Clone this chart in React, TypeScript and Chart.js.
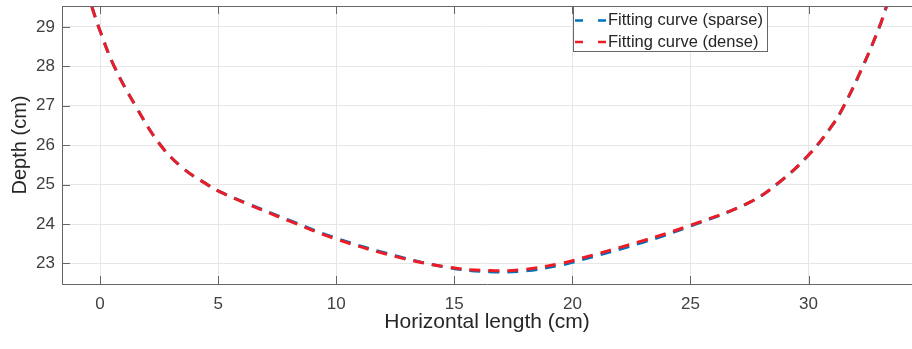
import React, { useEffect, useRef } from "react";
import { Chart, registerables } from "chart.js";

Chart.register(...registerables);

const xTickStep = 5;
const yTickStep = 1;
const xRange = [-1.61, 34.38];
const yRange = [22.48, 29.53];

const denseX = [-0.6, -0.35, 0, 0.6, 1.5, 2.5, 3.5, 4.6, 5, 6.2, 8, 10, 12.5, 14.7, 16.5, 18, 19.5, 20, 23, 25, 27.5, 28.8, 30, 31.0, 31.5, 32.3, 33.0, 33.3, 33.55];
const denseY = [29.97, 29.52, 28.9, 28.0, 27.0, 26.05, 25.42, 24.98, 24.84, 24.52, 24.08, 23.62, 23.18, 22.91, 22.82, 22.85, 23.0, 23.07, 23.58, 23.97, 24.55, 25.08, 25.75, 26.5, 27.0, 28.0, 29.0, 29.52, 29.97];

const sparseX = [-0.6, -0.35, 0, 0.6, 1.5, 2.5, 3.5, 4.6, 5, 6.2, 8, 10, 12.5, 14.7, 16.5, 18, 19.5, 20, 23, 25, 27.5, 28.8, 30, 31.0, 31.5, 32.3, 33.0, 33.3, 33.55];
const sparseY = [29.97, 29.52, 28.9, 28.0, 27.0, 26.05, 25.42, 24.98, 24.84, 24.53, 24.1, 23.64, 23.2, 22.9, 22.79, 22.81, 22.96, 23.03, 23.54, 23.95, 24.55, 25.08, 25.75, 26.5, 27.0, 28.0, 29.0, 29.52, 29.97];

const seriesLabels = ["Fitting curve (sparse)", "Fitting curve (dense)"];
const xTitle = "Horizontal length (cm)";
const yTitle = "Depth (cm)";

const BLUE = "#0072BD";
const RED = "#EE1C24";
const AXIS = "#666666";
const GRID = "#e6e6e6";
const TEXT = "#262626";
const FONT = "'Liberation Sans', Arial, Helvetica, sans-serif";

const toPoints = (xs: number[], ys: number[]) => xs.map((x, i) => ({ x, y: ys[i] }));

const decorPlugin = {
  id: "decor",
  afterDraw(chart: any) {
    const { ctx, chartArea, scales } = chart;
    const { left, right, top, bottom } = chartArea;
    ctx.save();
    ctx.strokeStyle = AXIS;
    ctx.lineWidth = 1;
    ctx.beginPath();
    ctx.moveTo(left, top + 0.5);
    ctx.lineTo(right, top + 0.5);
    ctx.stroke();
    const tl = 8;
    scales.x.ticks.forEach((t: any) => {
      const px = Math.round(scales.x.getPixelForValue(t.value)) + 0.5;
      ctx.beginPath();
      ctx.moveTo(px, bottom);
      ctx.lineTo(px, bottom - tl);
      ctx.moveTo(px, top);
      ctx.lineTo(px, top + tl);
      ctx.stroke();
    });
    scales.y.ticks.forEach((t: any) => {
      const py = Math.round(scales.y.getPixelForValue(t.value)) + 0.5;
      ctx.beginPath();
      ctx.moveTo(left, py);
      ctx.lineTo(left + tl, py);
      ctx.stroke();
    });
    const bx = 573.5, by = top + 0.5, bw = 194, bh = 45;
    ctx.fillStyle = "#ffffff";
    ctx.fillRect(bx, by, bw, bh);
    ctx.strokeStyle = AXIS;
    ctx.strokeRect(bx, by, bw, bh);
    const rows = [
      { label: seriesLabels[0], color: BLUE, y: top + 14.5 },
      { label: seriesLabels[1], color: RED, y: top + 36 },
    ];
    rows.forEach((r) => {
      ctx.strokeStyle = r.color;
      ctx.lineWidth = 2.5;
      ctx.setLineDash([8, 15]);
      ctx.beginPath();
      ctx.moveTo(575, r.y);
      ctx.lineTo(607, r.y);
      ctx.stroke();
      ctx.setLineDash([]);
      ctx.fillStyle = TEXT;
      ctx.font = `16.5px ${FONT}`;
      ctx.textAlign = "left";
      ctx.textBaseline = "middle";
      ctx.fillText(r.label, 608, r.y);
    });
    ctx.restore();
  },
};

export default function App() {
  const ref = useRef<HTMLCanvasElement | null>(null);
  useEffect(() => {
    if (!ref.current) return;
    const chart = new Chart(ref.current, {
      type: "line",
      data: {
        datasets: [
          {
            label: seriesLabels[0],
            data: toPoints(sparseX, sparseY),
            borderColor: BLUE,
            backgroundColor: BLUE,
            borderWidth: 3,
            borderDash: [11, 8],
            pointRadius: 0,
            tension: 0.4,
            fill: false,
            order: 2,
          },
          {
            label: seriesLabels[1],
            data: toPoints(denseX, denseY),
            borderColor: RED,
            backgroundColor: RED,
            borderWidth: 3,
            borderDash: [11, 8],
            pointRadius: 0,
            tension: 0.4,
            fill: false,
            order: 1,
          },
        ],
      },
      options: {
        animation: false,
        responsive: false,
        maintainAspectRatio: false,
        layout: { padding: { top: 6, right: 0, left: 0, bottom: 0 } },
        plugins: { legend: { display: false }, tooltip: { enabled: false } },
        scales: {
          x: {
            type: "linear",
            min: xRange[0],
            max: xRange[1],
            afterFit: (s: any) => {
              s.height = 65;
              s.paddingLeft = 0;
              s.paddingRight = 0;
            },
            ticks: {
              stepSize: xTickStep,
              includeBounds: false,
              color: "#404040",
              font: { family: FONT, size: 17 },
              padding: 10,
              maxRotation: 0,
            },
            grid: { color: GRID, drawTicks: false },
            border: { color: AXIS, width: 1 },
            title: {
              display: true,
              text: xTitle,
              color: TEXT,
              font: { family: FONT, size: 21 },
              padding: { top: 0, bottom: 14 },
            },
          },
          y: {
            type: "linear",
            min: yRange[0],
            max: yRange[1],
            afterFit: (s: any) => {
              s.width = 62;
              s.paddingTop = 0;
              s.paddingBottom = 0;
            },
            ticks: {
              stepSize: yTickStep,
              includeBounds: false,
              color: "#404040",
              font: { family: FONT, size: 17 },
              padding: 7,
            },
            grid: { color: GRID, drawTicks: false },
            border: { color: AXIS, width: 1 },
            title: {
              display: true,
              text: yTitle,
              color: TEXT,
              font: { family: FONT, size: 20 },
              padding: { top: 8, bottom: 0 },
            },
          },
        },
      },
      plugins: [decorPlugin],
    } as any);
    return () => chart.destroy();
  }, []);
  return (
    <div style={{ position: "fixed", left: 0, top: 0, width: 912, height: 349, background: "#fff" }}>
      <canvas ref={ref} width={912} height={349} style={{ width: 912, height: 349, display: "block" }} />
    </div>
  );
}
